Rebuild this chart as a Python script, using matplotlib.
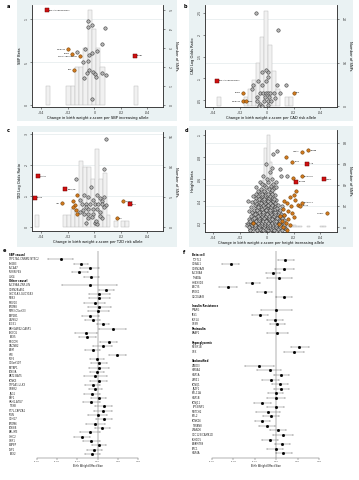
import matplotlib
matplotlib.use('Agg')
import matplotlib.pyplot as plt
from matplotlib.patches import Rectangle
from matplotlib.transforms import blended_transform_factory

# ---------------- data ----------------
# panel a : SBP
a_bin_left = [-0.0364, -0.0211, -0.0178, -0.0146, -0.0114, -0.0082, -0.0050, -0.0018, 0.0014, 0.0046, 0.0300]
a_counts = [1, 1, 1, 2, 2, 3, 5, 4, 3, 2, 1]
a_grey = [(-0.005, 0.98), (-0.0045, 0.91), (-0.002, 0.93), (0.008, 0.895), (-0.0128, 0.62), (-0.007, 0.65),
          (-0.004, 0.58), (-0.0018, 0.61), (0.0018, 0.63), (0.0055, 0.71), (-0.0088, 0.50), (-0.0048, 0.515),
          (-0.0038, 0.41), (-0.0055, 0.37), (-0.0078, 0.32), (-0.0008, 0.39), (0.0005, 0.36), (0.0013, 0.33),
          (0.0055, 0.375), (0.0088, 0.355), (-0.002, 0.07)]
a_orange = [(-0.0195, 0.65, 'FURIN-FES'), (-0.017, 0.60, 'SH2B3'), (-0.011, 0.57, 'PLCD3-ACBD4-HEXIM1'),
            (-0.015, 0.415, 'EBF1')]
a_red = [(-0.036, 1.10, 'CYP17A1-CNNM2-NT5C2'), (0.0305, 0.575, 'ADRB1')]
a_left = {'FURIN-FES', 'SH2B3', 'PLCD3-ACBD4-HEXIM1', 'EBF1'}

# panel b : CAD
b_bin_left = [-0.0375, -0.0168, -0.0138, -0.0108, -0.0078, -0.0048, -0.0018, 0.0012, 0.0042, 0.0072, 0.0135, 0.0165]
b_counts = [2, 2, 4, 6, 10, 16, 22, 14, 8, 4, 2, 2]
b_grey = [(-0.008, 0.25), (0.008, 0.21), (-0.0038, 0.114), (0.0005, 0.114), (-0.0005, 0.12), (0.0005, 0.104),
          (-0.007, 0.095), (-0.0005, 0.095), (-0.010, 0.085), (-0.0038, 0.085), (0.0075, 0.085), (0.0145, 0.085),
          (-0.011, 0.075), (-0.005, 0.0677), (-0.003, 0.0677), (-0.001, 0.0677), (0.0005, 0.0677), (0.002, 0.0677),
          (0.005, 0.0677), (0.010, 0.0677), (-0.0075, 0.0577), (-0.0013, 0.0577), (0.0013, 0.0577), (0.006, 0.056),
          (-0.0075, 0.048), (-0.0025, 0.048), (0.0005, 0.048), (0.003, 0.048), (-0.005, 0.041), (-0.006, 0.037),
          (-0.0038, 0.037), (0.0005, 0.039)]
b_orange = [(-0.0175, 0.0677, 'SH2B3'), (-0.018, 0.048, 'FURIN-FES'), (-0.0155, 0.048, 'PLCE1'),
            (0.020, 0.0677, 'ADM')]
b_red = [(-0.0375, 0.0946, 'CYP17A1-CNNM2-NT5C2')]
b_left = {'SH2B3', 'FURIN-FES'}

# panel c : T2D
c_bin_left = [-0.0450, -0.0238, -0.0208, -0.0178, -0.0148, -0.0118, -0.0088, -0.0058, -0.0028, 0.0002, 0.0032,
              0.0062, 0.0092, 0.0148, 0.0205, 0.0235]
c_counts = [2, 2, 2, 3, 3, 11, 10, 10, 8, 13, 8, 9, 2, 1, 1, 1]
c_grey = [(0.0088, 0.284), (0.0075, 0.1875), (-0.014, 0.155), (-0.0028, 0.129), (-0.008, 0.102), (-0.011, 0.086),
          (-0.005, 0.096), (0.0018, 0.102), (0.004, 0.093), (0.007, 0.096), (0.0055, 0.083), (-0.0008, 0.086),
          (-0.0095, 0.072), (-0.006, 0.072), (-0.003, 0.072), (0.0005, 0.072), (0.003, 0.072), (0.006, 0.072),
          (0.009, 0.07), (-0.005, 0.057), (-0.001, 0.057), (0.002, 0.057), (-0.011, 0.048), (-0.008, 0.04),
          (-0.0045, 0.04), (-0.0008, 0.04), (0.004, 0.048), (-0.005, 0.027), (0.006, 0.027), (-0.006, 0.011),
          (0.0005, 0.011), (0.0018, 0.0075), (-0.0065, 0.064), (0.0075, 0.062), (-0.0085, 0.055),
          (0.0045, 0.035), (-0.002, 0.030), (0.001, 0.019)]
c_orange = [(-0.0128, 0.102, ''), (-0.016, 0.082, ''), (-0.0145, 0.069, ''), (-0.0135, 0.054, ''),
            (-0.013, 0.040, ''), (-0.0158, 0.064, ''), (-0.024, 0.075, 'IRS1'), (0.0218, 0.0825, 'MTNR1B'),
            (0.0168, 0.027, 'GCK')]
c_red = [(-0.0425, 0.163, 'CDKAL1'), (-0.045, 0.094, 'ADCY5'), (-0.0218, 0.12, 'HHEX/IDE'), (0.0268, 0.072, 'ANK1')]
c_left = {'IRS1'}

# panel d : height
d_bin_left = [-0.016, -0.014, -0.012, -0.010, -0.008, -0.006, -0.004, -0.002, 0.000, 0.002, 0.004, 0.006, 0.008,
              0.010, 0.012, 0.014, 0.016, 0.018, 0.020, 0.022, 0.024, 0.030, 0.040, 0.042]
d_counts = [1, 2, 4, 7, 13, 26, 45, 76, 88, 62, 38, 22, 14, 8, 6, 4, 3, 2, 2, 1, 1, 1, 1, 1]
d_grey = [
    (-0.0090, 0.0130), (-0.0062, 0.0128), (-0.0041, 0.0135), (-0.0020, 0.0126), (0.0002, 0.0132), (0.0021, 0.0129),
    (0.0043, 0.0134), (0.0068, 0.0127), (0.0098, 0.0131), (-0.0108, 0.0152), (-0.0079, 0.0156), (-0.0052, 0.0149),
    (-0.0031, 0.0155), (-0.0011, 0.0151), (0.0011, 0.0157), (0.0031, 0.0148), (0.0052, 0.0154), (0.0081, 0.0150),
    (-0.0098, 0.0172), (-0.0069, 0.0168), (-0.0041, 0.0175), (-0.0019, 0.0170), (0.0001, 0.0174), (0.0022, 0.0167),
    (0.0041, 0.0173), (0.0062, 0.0169), (0.0091, 0.0176), (0.0118, 0.0171), (-0.0121, 0.0193), (-0.0082, 0.0189),
    (-0.0058, 0.0195), (-0.0029, 0.0188), (-0.0009, 0.0194), (0.0012, 0.0190), (0.0032, 0.0196), (0.0051, 0.0189),
    (0.0072, 0.0192), (-0.0092, 0.0212), (-0.0051, 0.0208), (-0.0022, 0.0214), (0.0003, 0.0209), (0.0019, 0.0215),
    (0.0042, 0.0211), (0.0079, 0.0207), (0.0108, 0.0213), (-0.0112, 0.0232), (-0.0071, 0.0229), (-0.0038, 0.0235),
    (-0.0012, 0.0231), (0.0011, 0.0227), (0.0029, 0.0234), (0.0061, 0.0230), (-0.0081, 0.0252), (-0.0049, 0.0248),
    (-0.0028, 0.0255), (0.0002, 0.0250), (0.0022, 0.0246), (0.0049, 0.0253), (0.0089, 0.0249), (-0.0101, 0.0271),
    (-0.0059, 0.0268), (-0.0021, 0.0274), (0.0008, 0.0270), (0.0038, 0.0266), (0.0071, 0.0272), (-0.0072, 0.0291),
    (-0.0039, 0.0288), (-0.0012, 0.0294), (0.0019, 0.0289), (0.0048, 0.0293), (-0.0089, 0.0311), (-0.0048, 0.0308),
    (-0.0018, 0.0314), (0.0009, 0.0310), (0.0032, 0.0306), (0.0078, 0.0312), (-0.0061, 0.0331), (-0.0029, 0.0328),
    (0.0001, 0.0334), (0.0041, 0.0330), (-0.0079, 0.0352), (-0.0041, 0.0348), (-0.0009, 0.0354), (0.0018, 0.0350),
    (0.0058, 0.0346), (-0.0052, 0.0371), (-0.0019, 0.0368), (0.0012, 0.0374), (0.0049, 0.0369), (-0.0108, 0.0392),
    (-0.0062, 0.0388), (-0.0031, 0.0394), (0.0001, 0.0390), (0.0029, 0.0386), (-0.0039, 0.0412), (-0.0011, 0.0408),
    (0.0021, 0.0414), (0.0069, 0.0410), (-0.0081, 0.0431), (-0.0049, 0.0428), (0.0002, 0.0434), (0.0038, 0.0429),
    (-0.0029, 0.0452), (0.0011, 0.0448), (0.0059, 0.0454), (-0.0058, 0.0481), (-0.0012, 0.0478), (0.0031, 0.0484),
    (-0.0041, 0.0511), (0.0019, 0.0508), (0.0052, 0.0514), (-0.0019, 0.0541), (0.0029, 0.0538), (-0.0051, 0.0571),
    (0.0009, 0.0568), (0.0069, 0.0574), (0.0002, 0.0601), (0.0041, 0.0598), (-0.0029, 0.0631), (0.0105, 0.0630),
    (0.0150, 0.0627), (0.0022, 0.0661), (0.0037, 0.0697), (0.0095, 0.0690), (-0.0005, 0.0736), (0.0045, 0.0824),
    (0.0075, 0.0855), (-0.0140, 0.0400), (-0.0130, 0.0240), (-0.0150, 0.0180), (0.0130, 0.0270), (0.0110, 0.0350),
    (-0.0135, 0.0310), (-0.0125, 0.0135), (0.0128, 0.0150), (0.0105, 0.0190), (-0.0068, 0.0445),
    (-0.0128, 0.0140), (-0.0075, 0.0140), (-0.0052, 0.0142), (-0.0030, 0.0139), (-0.0008, 0.0141), (0.0012, 0.0140),
    (0.0033, 0.0143), (0.0056, 0.0139), (0.0085, 0.0141), (0.0112, 0.0140), (0.0140, 0.0142),
    (-0.0132, 0.0162), (-0.0088, 0.0161), (-0.0060, 0.0163), (-0.0025, 0.0162), (0.0006, 0.0160), (0.0026, 0.0163),
    (0.0047, 0.0161), (0.0072, 0.0162), (0.0102, 0.0160), (0.0132, 0.0163),
    (-0.0112, 0.0183), (-0.0090, 0.0181), (-0.0050, 0.0184), (-0.0035, 0.0182), (-0.0015, 0.0183), (0.0006, 0.0181),
    (0.0027, 0.0184), (0.0046, 0.0182), (0.0066, 0.0183), (0.0098, 0.0181), (0.0125, 0.0184),
    (-0.0140, 0.0202), (-0.0102, 0.0201), (-0.0068, 0.0203), (-0.0040, 0.0202), (-0.0016, 0.0200), (0.0009, 0.0203),
    (0.0036, 0.0201), (0.0061, 0.0202), (0.0090, 0.0200),
    (-0.0125, 0.0222), (-0.0082, 0.0221), (-0.0060, 0.0223), (-0.0030, 0.0222), (-0.0005, 0.0220), (0.0023, 0.0223),
    (0.0050, 0.0221), (0.0072, 0.0222), (0.0098, 0.0220), (0.0128, 0.0223),
    (-0.0095, 0.0242), (-0.0062, 0.0241), (-0.0018, 0.0243), (0.0014, 0.0242), (0.0040, 0.0240), (0.0078, 0.0243),
    (0.0110, 0.0241),
    (-0.0120, 0.0262), (-0.0070, 0.0261), (-0.0040, 0.0263), (-0.0010, 0.0262), (0.0016, 0.0260), (0.0056, 0.0263),
    (0.0096, 0.0261),
    (-0.0088, 0.0282), (-0.0050, 0.0281), (-0.0028, 0.0283), (0.0002, 0.0282), (0.0030, 0.0280), (0.0062, 0.0283),
    (0.0105, 0.0281),
    (-0.0110, 0.0302), (-0.0060, 0.0301), (-0.0030, 0.0303), (0.0021, 0.0302), (0.0058, 0.0300), (0.0092, 0.0303),
    (-0.0098, 0.0322), (-0.0072, 0.0321), (-0.0040, 0.0323), (-0.0010, 0.0322), (0.0020, 0.0320), (0.0060, 0.0323),
    (0.0100, 0.0321),
    (-0.0118, 0.0342), (-0.0065, 0.0341), (-0.0020, 0.0343), (0.0030, 0.0342), (0.0075, 0.0340),
    (-0.0092, 0.0362), (-0.0030, 0.0361), (0.0005, 0.0363), (0.0038, 0.0362), (0.0080, 0.0360),
    (-0.0078, 0.0382), (-0.0042, 0.0381), (-0.0012, 0.0383), (0.0020, 0.0382), (0.0060, 0.0380),
    (-0.0090, 0.0402), (-0.0022, 0.0401), (0.0010, 0.0403), (0.0045, 0.0402),
    (-0.0062, 0.0422), (-0.0025, 0.0421), (0.0015, 0.0423), (0.0055, 0.0422),
    (-0.0100, 0.0442), (-0.0040, 0.0441), (0.0025, 0.0443),
    (-0.0078, 0.0465), (-0.0035, 0.0464), (0.0008, 0.0466), (0.0042, 0.0465),
    (-0.0065, 0.0495), (-0.0020, 0.0494), (0.0035, 0.0496),
    (-0.0085, 0.0525), (-0.0010, 0.0524), (0.0065, 0.0526),
    (-0.0035, 0.0555), (0.0045, 0.0554)]
d_orange = [(0.022, 0.049, ''), (0.020, 0.045, ''), (0.017, 0.044, ''), (0.021, 0.041, ''), (0.015, 0.038, ''),
            (0.018, 0.035, ''), (0.012, 0.033, ''), (0.016, 0.031, ''), (0.019, 0.029, ''), (0.013, 0.027, ''),
            (0.016, 0.024, ''), (0.011, 0.022, ''), (0.014, 0.020, ''), (0.017, 0.018, ''), (0.012, 0.016, ''),
            (0.015, 0.014, ''), (0.010, 0.026, ''), (0.0125, 0.040, ''), (0.009, 0.019, ''), (0.020, 0.025, ''),
            (0.023, 0.036, ''), (0.014, 0.080, ''), (0.0195, 0.0606, ''),
            (0.026, 0.0848, 'HMGA2'), (0.031, 0.086, 'LIN28B'), (0.019, 0.0758, 'GDF5'),
            (0.026, 0.0627, 'ADAMTS17'), (0.026, 0.0385, 'ADAMTSL3'), (0.025, 0.0358, 'NCAPG'),
            (0.045, 0.0288, 'CDKN1C'), (-0.0105, 0.0197, 'SOCS2')]
d_red = [(0.030, 0.074, 'ACAN'), (0.022, 0.0576, 'ZBTB38'), (0.0425, 0.0597, 'HMGA1')]
d_left = {'HMGA2', 'CDKN1C', 'SOCS2'}

# panel e : BP loci forest plot (None = header row)
e_labels = ['SBP causal', 'CYP17A1-CNNM2-NT5C2', 'SH2B3', 'SLC4A7', 'FURIN-FES', 'ULK4',
            'Other causal', 'SLC39A8-ZNF-LIN', 'CDKN2B-AS1', 'GUCY1A3-GUCY1B3', 'NOS3', 'MOV10', 'PRDM8',
            'NPR3-C5orf23', 'ATP2B1', 'ZNF652', 'PLCE1', 'ARHGAP42-CASP1', 'PIK3CG', 'TBX5', 'MECOM', 'CACNB2',
            'ADM', 'HFE', 'FGF5', 'C10orf107', 'SETBP1', 'PDE3A', 'BAT2-BAT5', 'KCNK3', 'CYP1A1-ULK3', 'GOSR2',
            'JAG1', 'EBF1', 'HRH1-ATG7', 'TNXB', 'ST7L-CAPZA1', 'FIGN', 'CDH17', 'PRDM6', 'PDE8B', 'ABLIM3',
            'CHIC2', 'OSR1', 'ENPEP', 'LSP1', 'TBX2']
e_est = [None, -0.0367, -0.0161, -0.0079, -0.0180, -0.0062,
         None, -0.0072, 0.0085, 0.0016, 0.0016, -0.0030, 0.0016, 0.0003, -0.0072, -0.0046, 0.0049, 0.0148,
         -0.0112, -0.0105, 0.0108, 0.0049, -0.0046, 0.0197, -0.0007, 0.0016, 0.0010, -0.0007, -0.0023, 0.0010,
         -0.0046, -0.0023, -0.0056, 0.0010, -0.0062, 0.0059, 0.0052, 0.0003, 0.0066, -0.0023, 0.0043, -0.0072,
         -0.0154, -0.0066, 0.0010, -0.0033, -0.0056]
e_lo = [None, -0.0489, -0.0230, -0.0171, -0.0253, -0.0138,
        None, -0.0351, 0.0010, -0.0089, -0.0089, -0.0138, -0.0098, -0.0098, -0.0154, -0.0121, -0.0007, 0.0010,
        -0.0220, -0.0187, 0.0020, -0.0046, -0.0121, 0.0108, -0.0072, -0.0066, -0.0089, -0.0079, -0.0138, -0.0079,
        -0.0121, -0.0089, -0.0138, -0.0066, -0.0144, -0.0023, -0.0033, -0.0098, -0.0013, -0.0112, -0.0023, -0.0171,
        -0.0230, -0.0144, -0.0056, -0.0105, -0.0121]
e_hi = [None, -0.0243, -0.0095, 0.0010, -0.0098, 0.0010,
        None, 0.0197, 0.0164, 0.0125, 0.0118, 0.0075, 0.0131, 0.0108, 0.0010, 0.0026, 0.0108, 0.0282,
        -0.0007, -0.0013, 0.0197, 0.0141, 0.0026, 0.0282, 0.0059, 0.0098, 0.0108, 0.0066, 0.0098, 0.0098,
        0.0026, 0.0043, 0.0026, 0.0085, 0.0026, 0.0141, 0.0141, 0.0098, 0.0141, 0.0075, 0.0118, 0.0026,
        -0.0079, 0.0020, 0.0085, 0.0043, 0.0020]

# panel f : T2D loci forest plot ('' = empty row, None estimate on header)
f_labels = ['Beta cell', 'TCF7L2', 'CDKAL1', 'CDKN2A/B', 'SLC30A8', 'THADA', 'HHEX/IDE', 'ADCY5', 'PROX1',
            'C2CD4A/B', '', 'Insulin Resistance', 'PPARG', 'IRS1', 'KLF14', 'GCKR', 'Proinsulin', 'ARAP1', '',
            'Hyperglycemic', 'MTNR1B', 'GCK', '', 'Unclassified', 'ZBED3', 'HMGA2', 'HNF1A', 'ZMIZ1', 'KCNQ1',
            'JAZF1', 'BCL11A', 'HNF1B', 'KCNJ11', 'TP53INP1', 'NOTCH2', 'BCL2', 'KCNK16', 'TSPAN8', 'ZFAND6',
            'CDC123/CAMK1D', 'KLHDC5', 'ADAMTS9', 'PRC1', 'HNF4A']
f_est = [None, 0.0086, -0.0425, 0.0077, -0.0031, 0.0025, -0.0222, -0.0446, -0.0108, 0.0071, None,
         None, 0.0000, -0.0154, -0.0015, 0.0009, None, 0.0006, None, None, 0.0215, 0.0163, None, None,
         -0.0160, -0.0062, 0.0046, -0.0052, 0.0031, 0.0046, -0.0006, 0.0000, -0.0129, -0.0006, -0.0077,
         -0.0052, -0.0129, -0.0086, 0.0015, 0.0062, -0.0062, 0.0055, -0.0006, 0.0068]
f_lo = [None, 0.0015, -0.0502, -0.0015, -0.0098, -0.0086, -0.0286, -0.0532, -0.0178, 0.0000, None,
        None, -0.0138, -0.0225, -0.0086, -0.0062, None, -0.0083, None, None, 0.0138, 0.0077, None, None,
        -0.0292, -0.0175, -0.0022, -0.0129, -0.0040, -0.0022, -0.0077, -0.0086, -0.0206, -0.0086, -0.0185,
        -0.0123, -0.0200, -0.0160, -0.0055, -0.0031, -0.0132, -0.0015, -0.0086, 0.0000]
f_hi = [None, 0.0169, -0.0345, 0.0169, 0.0037, 0.0148, -0.0148, -0.0363, -0.0037, 0.0145, None,
        None, 0.0148, -0.0077, 0.0062, 0.0086, None, 0.0108, None, None, 0.0302, 0.0262, None, None,
        -0.0025, 0.0046, 0.0117, 0.0025, 0.0108, 0.0117, 0.0062, 0.0086, -0.0046, 0.0077, 0.0037,
        0.0025, -0.0055, -0.0015, 0.0092, 0.0154, 0.0015, 0.0129, 0.0062, 0.0148]

# ---------------- styling ----------------
W, H = 359, 480
BG = '#eaf2f3'
GREY_FC, GREY_EC = '#b4b4b4', '#2e2e2e'
ORANGE_FC, ORANGE_EC = '#d27a1e', '#6b3a00'
RED_FC, RED_EC = '#d01010', '#6b0000'
BAR_FC, BAR_EC = '#f1f1f1', '#bcbcbc'
GRID = '#e3eaec'
AXC = '#333333'

fig = plt.figure(figsize=(W / 100, H / 100), dpi=100)


def rect(x0, y0, x1, y1):
    return [x0 / W, 1 - y1 / H, (x1 - x0) / W, (y1 - y0) / H]


def add_bg(x0, y0, x1, y1):
    fig.patches.append(Rectangle((x0 / W, 1 - y1 / H), (x1 - x0) / W, (y1 - y0) / H,
                                 transform=fig.transFigure, facecolor=BG, edgecolor='none', zorder=-5))


def letter(x, y, s):
    fig.text(x / W, 1 - y / H, s, fontsize=3.6, fontweight='bold', ha='left', va='center')


def scatter_panel(box, xlim, ylim, yticks, yticklabels, ylim2, yticks2, bins, counts, bin_w,
                  grey, orange, red, left, grid_left, grid_right, ylabel, xlabel):
    ax = fig.add_axes(rect(*box))
    ax2 = ax.twinx()
    ax.set_zorder(ax2.get_zorder() + 1)
    ax.patch.set_visible(False)
    ax2.patch.set_visible(True)
    ax2.patch.set_facecolor('white')

    ax2.bar(bins, counts, width=bin_w, align='edge', color=BAR_FC, edgecolor=BAR_EC, linewidth=0.35, zorder=2)
    tr = blended_transform_factory(ax2.transAxes, ax.transData)
    for g in grid_left:
        ax2.plot([0, 1], [g, g], transform=tr, color=GRID, lw=0.5, zorder=1)
    for g in grid_right:
        ax2.axhline(g, color=GRID, lw=0.5, zorder=1)

    gx, gy = zip(*grey)
    ax.scatter(gx, gy, s=6, facecolor=GREY_FC, edgecolor=GREY_EC, linewidth=0.35, zorder=3)
    for pts, fc, ec, mk in ((orange, ORANGE_FC, ORANGE_EC, 'o'), (red, RED_FC, RED_EC, 's')):
        for x, y, name in pts:
            ax.scatter([x], [y], s=6 if mk == 'o' else 5, marker=mk, facecolor=fc, edgecolor=ec,
                       linewidth=0.35, zorder=4)
            if name:
                on_left = name in left
                ax.annotate(name, (x, y), xytext=(-1.6 if on_left else 1.6, 0), textcoords='offset points',
                            fontsize=1.3, ha='right' if on_left else 'left', va='center', zorder=5)

    ax.set_xlim(*xlim)
    ax.set_ylim(*ylim)
    ax2.set_ylim(*ylim2)
    ax.set_xticks([-0.04, -0.02, 0, 0.02, 0.04])
    ax.set_xticklabels(['-.04', '-.02', '0', '.02', '.04'])
    ax.set_yticks(yticks)
    ax.set_yticklabels(yticklabels, rotation=90, va='center')
    ax2.set_yticks(yticks2)
    ax2.set_yticklabels([str(t) for t in yticks2], rotation=270, va='center')
    for a in (ax, ax2):
        a.tick_params(length=1.6, width=0.4, labelsize=2.3, pad=1, colors=AXC)
        a.spines['top'].set_visible(False)
        for s in ('left', 'right', 'bottom'):
            a.spines[s].set_linewidth(0.5)
            a.spines[s].set_color(AXC)
    ax.set_ylabel(ylabel, fontsize=2.6, labelpad=1.5)
    ax2.set_ylabel('Number of SNPs', fontsize=2.6, labelpad=2.5, rotation=270, va='bottom')
    ax.set_xlabel(xlabel, fontsize=2.6, labelpad=1.2)
    return ax


def forest_panel(box, label_x, ylim, labels, est, lo, hi):
    ax = fig.add_axes(rect(*box))
    ax.axvline(0, color='#d4d4d4', lw=1.3, zorder=0)
    tr = blended_transform_factory(fig.transFigure, ax.transData)
    for i, lab in enumerate(labels):
        if not lab:
            continue
        if est[i] is None:
            ax.text(label_x / W, i, lab, transform=tr, fontsize=1.8, fontweight='bold', va='center', ha='left')
            continue
        ax.text(label_x / W, i, lab, transform=tr, fontsize=1.8, va='center', ha='left', color='#222222')
        ax.errorbar([est[i]], [i], xerr=[[est[i] - lo[i]], [hi[i] - est[i]]], fmt='s', ms=1.0,
                    color='black', ecolor='#444444', elinewidth=0.25, capsize=0.9, capthick=0.25, zorder=3)
    ax.set_xlim(-0.06, 0.04)
    ax.set_ylim(*ylim)
    ax.set_yticks([])
    ax.set_xticks([-0.06, -0.04, -0.02, 0.0, 0.02, 0.04])
    ax.set_xticklabels(['-0.06', '-0.04', '-0.02', '0.00', '0.02', '0.04'])
    ax.tick_params(axis='x', length=1.2, width=0.3, labelsize=1.6, pad=1, colors='#444444')
    for s in ('left', 'top', 'right'):
        ax.spines[s].set_visible(False)
    ax.spines['bottom'].set_linewidth(0.35)
    ax.spines['bottom'].set_color('#666666')
    ax.set_xlabel('Birth Weight Effect Size', fontsize=1.8, labelpad=1.5)
    return ax


# ---------------- layout ----------------
add_bg(17, 0, 177, 121)
add_bg(189, 0, 353, 121)
add_bg(17, 126, 177, 247)
add_bg(189, 126, 353, 247)

scatter_panel((32, 5, 163, 107), (-0.047, 0.0518), (-0.019, 1.163), [0, 0.5, 1], ['0', '.5', '1'],
              (-0.09, 5.26), [0, 1, 2, 3, 4, 5], a_bin_left, a_counts, 0.0032,
              a_grey, a_orange, a_red, a_left, [0.5, 1.0], [], 'SBP Beta',
              'Change in birth weight z-score per SBP increasing allele')
scatter_panel((205, 5, 337, 107), (-0.0463, 0.0525), (0.0346, 0.2677), [0.05, 0.1, 0.15, 0.2, 0.25],
              ['.05', '.1', '.15', '.2', '.25'], (-0.23, 23.3), [0, 10, 20], b_bin_left, b_counts, 0.003,
              b_grey, b_orange, b_red, b_left, [], [10, 20], 'CAD Log Odds Ratio',
              'Change in birth weight z-score per CAD risk allele')
scatter_panel((32, 132, 163, 231), (-0.047, 0.0518), (-0.0139, 0.3054), [0, 0.1, 0.2, 0.3],
              ['0', '.1', '.2', '.3'], (-0.72, 15.8), [0, 5, 10, 15], c_bin_left, c_counts, 0.003,
              c_grey, c_orange, c_red, c_left, [0.1, 0.2, 0.3], [], 'T2D Log Odds Ratio',
              'Change in birth weight z-score per T2D risk allele')
scatter_panel((205, 130, 337, 232), (-0.0463, 0.0525), (0.0118, 0.1045), [0.02, 0.04, 0.06, 0.08, 0.1],
              ['.02', '.04', '.06', '.08', '.1'], (-5.1, 92.8), [0, 20, 40, 60, 80], d_bin_left, d_counts, 0.002,
              d_grey, d_orange, d_red, d_left, [], [20, 40, 60, 80], 'Height Beta',
              'Change in birth weight z-score per height increasing allele')

forest_panel((37, 251, 138, 458), 9, (46.9, -0.92), e_labels, e_est, e_lo, e_hi)
forest_panel((212, 251, 319, 458), 192, (44.0, -0.87), f_labels, f_est, f_lo, f_hi)

letter(7, 6, 'a')
letter(184, 6, 'b')
letter(7, 131, 'c')
letter(185, 131, 'd')
letter(3, 251, 'e')
letter(183, 252, 'f')

fig.savefig('out.png', dpi=100)
